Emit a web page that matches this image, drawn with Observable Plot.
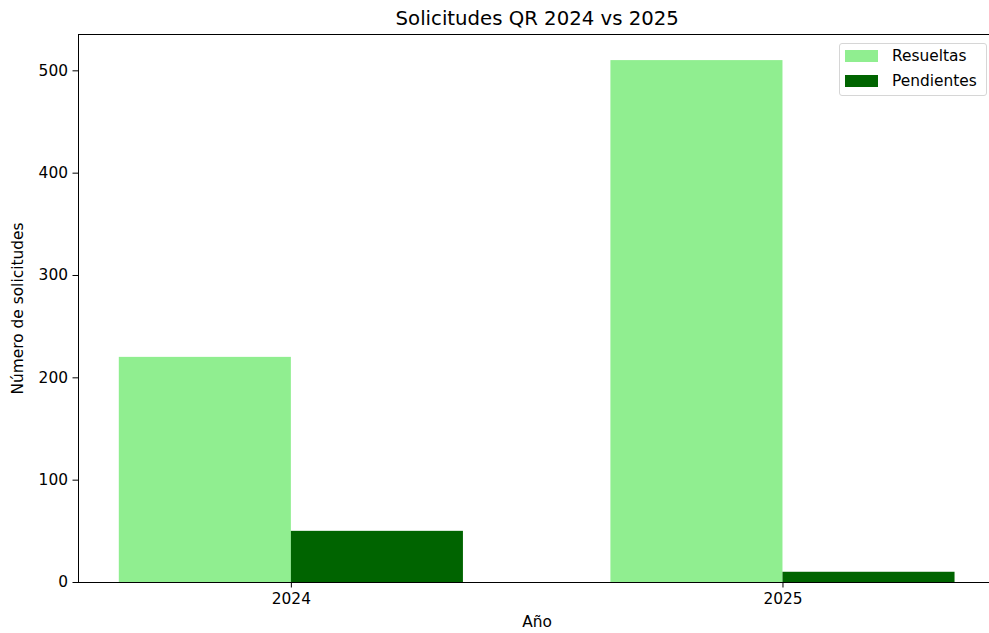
<!DOCTYPE html>
<html>
<head>
<meta charset="utf-8">
<script src="https://cdn.jsdelivr.net/npm/d3@7"></script>
<script src="https://cdn.jsdelivr.net/npm/@observablehq/plot@0.6"></script>
<style>
  body { margin: 0; background: white; }
  #wrap { position: relative; width: 989px; height: 633px; font-family: "DejaVu Sans", sans-serif; }
  .legend { position: absolute; left: 839px; top: 43px; width: 146px; height: 51px;
    border: 1px solid #d6d6d6; border-radius: 3px; background: rgba(255,255,255,0.8); }
  .item { position: absolute; left: 0; height: 20px; font-size: 15.4px; color: #000; }
  .sw { position: absolute; left: 5px; width: 33px; height: 12px; }
  .lbl { position: absolute; left: 52px; white-space: nowrap; line-height: 18px; }
</style>
</head>
<body>
<div id="wrap"></div>
<script>
const years = ["2024", "2025"];
const series = ["Resueltas", "Pendientes"];
const resueltas = [220, 510];
const pendientes = [50, 10];
const colors = ["#90ee90", "#006400"];
const yTicks = [0, 100, 200, 300, 400, 500];
const titulo = "Solicitudes QR 2024 vs 2025";
const xLabel = "Año";
const yLabel = "Número de solicitudes";

const barW = 0.35;
const values = [resueltas, pendientes];
const table = [];
years.forEach((yr, i) => {
  series.forEach((s, k) => {
    table.push({year: yr, serie: s, value: values[k][i],
      x1: i + (k - 1) * barW, x2: i + k * barW});
  });
});
const xmin = -0.433, xmax = 1.4201;
const ymax = 535.5;
const xCenter = (d3.min(table, d => d.x1) + d3.max(table, d => d.x2)) / 2;

const chart = Plot.plot({
  width: 989, height: 633,
  marginLeft: 78, marginRight: 0, marginTop: 34, marginBottom: 51,
  style: {fontFamily: "DejaVu Sans", fontSize: "15.4px", color: "#000", background: "white", overflow: "visible"},
  x: {domain: [xmin, xmax], axis: null},
  y: {domain: [0, ymax], axis: null},
  color: {domain: series, range: colors},
  marks: [
    Plot.rectY(table, {x1: "x1", x2: "x2", y: "value", fill: "serie", insetLeft: 0, insetRight: 0}),
    Plot.ruleX([xmin], {stroke: "#000", strokeWidth: 1}),
    Plot.ruleY([0], {stroke: "#000", strokeWidth: 1}),
    Plot.ruleY([ymax], {stroke: "#000", strokeWidth: 1}),
    Plot.axisY({ticks: yTicks, tickSize: 5.5, tickPadding: 5, label: null, fontSize: 15.4}),
    Plot.axisX({ticks: [0, 1], tickFormat: i => years[i], tickSize: 5.5, tickPadding: 5, label: null, fontSize: 15.4}),
    Plot.text([titulo], {x: () => xCenter, text: d => d, frameAnchor: "top", lineAnchor: "bottom", dy: -10, fontSize: 19.7}),
    Plot.text([xLabel], {x: () => xCenter, text: d => d, frameAnchor: "bottom", lineAnchor: "top", dy: 34, fontSize: 15.4}),
    Plot.text([yLabel], {text: d => d, frameAnchor: "left", textAnchor: "middle", rotate: -90, dx: -60, fontSize: 15.4})
  ]
});
const wrap = document.getElementById("wrap");
wrap.appendChild(chart);

const leg = document.createElement("div");
leg.className = "legend";
series.forEach((s, k) => {
  const it = document.createElement("div");
  it.className = "item";
  it.style.top = (6 + k * 25) + "px";
  it.innerHTML = `<div class="sw" style="top:0px;background:${colors[k]}"></div><div class="lbl" style="top:-3px">${s}</div>`;
  leg.appendChild(it);
});
wrap.appendChild(leg);
</script>
</body>
</html>
